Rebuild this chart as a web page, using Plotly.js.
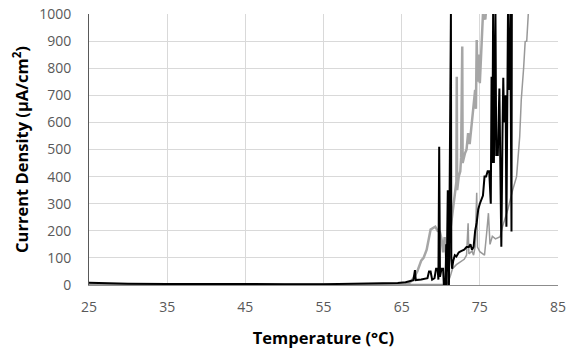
<!DOCTYPE html>
<html>
<head>
<meta charset="utf-8">
<script src="https://cdn.plot.ly/plotly-3.0.1.min.js"></script>
<style>html,body{margin:0;padding:0;background:#fff;}#chart{width:578px;height:350px;}</style>
</head>
<body>
<div id="chart"></div>
<script>
// Light gray run
var grayAX = [25,40,55,64,65.5,66,66.5,67,67.5,67.8,68.2,68.5,68.7,69,69.3,69.6,69.9,70.1,70.3,70.5,70.7,71.0,71.3,71.5,71.7,72.0,72.05,72.1,72.3,72.5,72.6,72.75,72.8,73.0,73.1,73.3,73.5,73.7,74.0,74.2,74.4,74.5,74.6,74.7,74.9,75.0,75.1,75.2,75.3,75.4,75.5,75.7,75.9];
var grayAY = [2,1,1,2,3,8,25,50,90,100,130,180,205,210,215,200,195,170,120,177,100,150,220,280,320,380,768,350,400,420,470,880,450,480,486,500,560,520,600,650,720,650,904,750,850,745,820,867,950,1000,990,980,1050];
// Darker gray run
var grayBX = [25,60,70,70.8,71.2,71.5,72,72.5,73,73.3,73.5,73.6,74,74.2,74.4,74.6,74.7,75,75.3,75.6,75.9,76.1,76.3,76.6,77,77.3,77.6,77.9,78.2,78.6,79.2,79.7,80.1,80.3,80.6,80.8,81.0,81.2,81.3];
var grayBY = [1,1,1,2,30,60,75,85,95,110,228,115,125,110,141,340,140,123,115,110,200,265,150,180,170,175,178,215,240,280,350,400,547,683,800,898,900,1000,1050];
// Black run
var blackX = [25,27,30,35,40,45,50,55,60,63,64.5,65.5,66,66.5,66.7,66.8,67.5,68,68.3,68.5,68.7,68.9,69.2,69.4,69.6,69.7,69.8,69.9,70.1,70.3,70.4,70.6,70.7,70.75,70.8,70.85,70.9,70.95,71.0,71.05,71.1,71.15,71.3,71.35,71.45,71.6,71.8,72,72.3,72.6,73,73.3,73.6,73.8,74.0,74.2,74.4,74.6,74.8,75.0,75.2,75.4,75.6,75.8,76.0,76.2,76.4,76.5,76.6,76.7,76.8,77.0,77.1,77.3,77.5,77.6,77.75,77.9,78.0,78.1,78.3,78.4,78.5,78.6,78.7,78.8,78.9,79.05,79.1];
var blackY = [8,6,5,4,3,3,3,3,4,5,7,10,15,18,55,18,20,22,25,50,50,20,25,60,60,20,510,30,60,60,0,0,150,0,250,20,350,50,200,0,300,30,1000,100,60,90,110,105,120,125,130,140,140,150,130,140,200,230,280,300,320,330,400,400,420,420,300,768,450,1000,450,1000,480,480,725,500,141,560,765,600,700,215,750,1000,720,780,1000,197,1100];

var xTicks = [25,35,45,55,65,75,85];
var yTicks = [0,100,200,300,400,500,600,700,800,900,1000];

var traces = [
  {x: grayAX, y: grayAY, type: 'scatter', mode: 'lines', line: {color: '#a6a6a6', width: 2.5}, hoverinfo: 'none'},
  {x: grayBX, y: grayBY, type: 'scatter', mode: 'lines', line: {color: '#999999', width: 1.5}, hoverinfo: 'none'},
  {x: blackX, y: blackY, type: 'scatter', mode: 'lines', line: {color: '#000000', width: 2}, hoverinfo: 'none'}
];

var layout = {
  width: 578, height: 350,
  margin: {l: 89, r: 20, t: 14, b: 65},
  paper_bgcolor: '#ffffff', plot_bgcolor: '#ffffff',
  showlegend: false,
  font: {family: 'Open Sans, Lato, sans-serif', size: 14, color: '#595959'},
  xaxis: {
    range: [25, 85], tickvals: xTicks, ticktext: xTicks.map(String),
    showgrid: true, gridcolor: '#d9d9d9', gridwidth: 1,
    zeroline: false, showline: true, linecolor: '#8c8c8c', linewidth: 1,
    ticks: '', ticklen: 0, ticklabelstandoff: 9,
    automargin: false,
    tickfont: {size: 14, color: '#595959'},
    title: {text: 'Temperature (°C)', font: {size: 16.5, color: '#000000', family: 'Open Sans, sans-serif', weight: 'bold'}, standoff: 17}
  },
  yaxis: {
    range: [0, 1000], tickvals: yTicks, ticktext: yTicks.map(String),
    showgrid: true, gridcolor: '#d9d9d9', gridwidth: 1,
    zeroline: false, showline: true, linecolor: '#595959', linewidth: 1,
    ticks: '', ticklen: 0, ticklabelstandoff: 14,
    automargin: false,
    tickfont: {size: 14, color: '#595959'},
    title: {text: 'Current Density (µA/cm<sup>2</sup>)', font: {size: 16.5, color: '#000000', family: 'Open Sans, sans-serif', weight: 'bold'}, standoff: 6}
  }
};

Plotly.newPlot('chart', traces, layout, {displayModeBar: false, staticPlot: true});
</script>
</body>
</html>
